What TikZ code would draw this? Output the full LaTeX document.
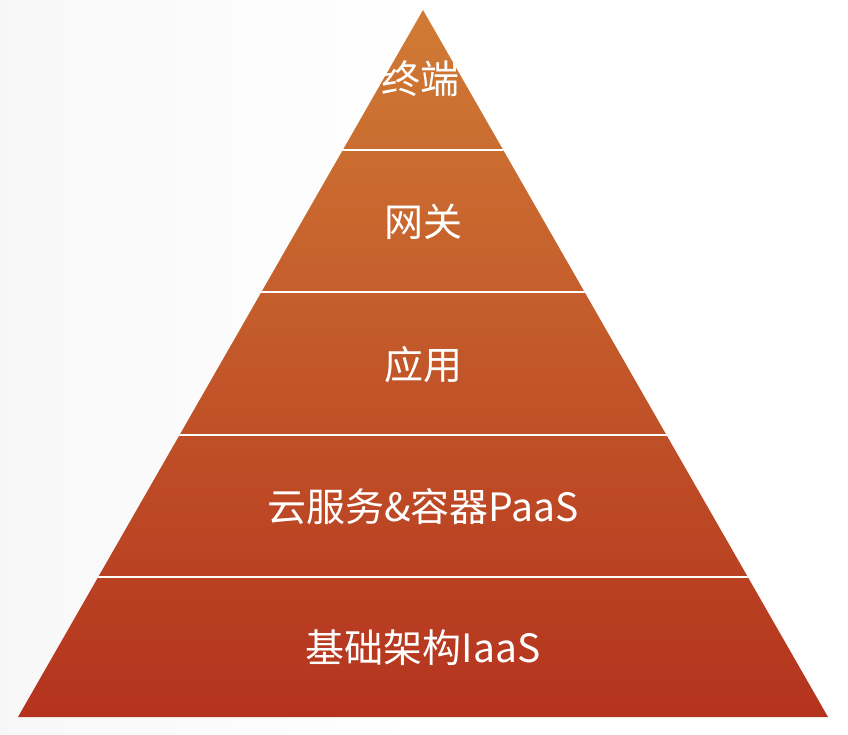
\documentclass[tikz,border=0pt]{standalone}
\usepackage{fontspec}
\newfontfamily\cjk{Noto Sans CJK SC}
\definecolor{pyrtop}{HTML}{D07B35}
\definecolor{pyrbot}{HTML}{B4331E}
\begin{document}
\begin{tikzpicture}[x=1pt,y=-1pt,
  tierlabel/.style={text=white,font=\cjk\fontsize{39}{44}\selectfont,inner sep=0pt,anchor=center},
  gap/.style={draw=white,line width=2.5pt}]
\useasboundingbox (0,0) rectangle (848,734);
\fill[left color=black!3,right color=white] (0,0) rectangle (424,734);
\fill[white] (424,0) rectangle (848,734);
\coordinate (apex) at (423,10);
\coordinate (bl) at (18,717);
\coordinate (br) at (828,717);
\begin{scope}
\clip (apex) -- (br) -- (bl) -- cycle;
\shade[top color=pyrtop,bottom color=pyrbot] (0,10) rectangle (848,717);
\coordinate (s1l) at (0,150); \coordinate (s1r) at (848,150);
\coordinate (s2l) at (0,292); \coordinate (s2r) at (848,292);
\coordinate (s3l) at (0,435); \coordinate (s3r) at (848,435);
\coordinate (s4l) at (0,577); \coordinate (s4r) at (848,577);
\draw[gap] (s1l) -- (s1r);
\draw[gap] (s2l) -- (s2r);
\draw[gap] (s3l) -- (s3r);
\draw[gap] (s4l) -- (s4r);
\end{scope}
\node[tierlabel] (t1) at (420,79) {终端};
\node[tierlabel] (t2) at (423,222) {网关};
\node[tierlabel] (t3) at (423,365) {应用};
\node[tierlabel] (t4) at (423,507) {云服务\&容器PaaS};
\node[tierlabel] (t5) at (423,648) {基础架构IaaS};
\end{tikzpicture}
\end{document}
